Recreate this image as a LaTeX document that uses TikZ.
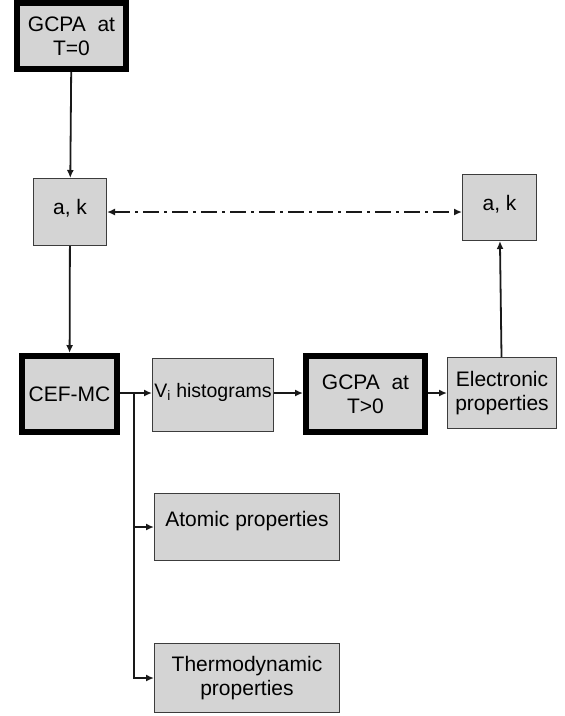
\documentclass[tikz,border=0pt]{standalone}
\usepackage{fontspec}
\setmainfont{Liberation Sans}
\usetikzlibrary{arrows, arrows.meta}
\usetikzlibrary{calc}

\definecolor{boxgray}{RGB}{212,212,212}
\definecolor{linegray}{RGB}{60,60,60}

\begin{document}
\begin{tikzpicture}[x=1pt, y=-1pt,
    every node/.style={font=\fontsize{21}{24}\selectfont, align=center},
    box/.style={draw=linegray, line width=1pt, fill=boxgray, inner sep=0pt},
    mainbox/.style={draw=black, line width=6pt, fill=boxgray, inner sep=0pt},
    flow/.style={draw=black!90, line width=1.8pt, -{Latex[length=8pt, width=7pt]}},
    link/.style={draw=black!90, line width=1.8pt, {Latex[length=8pt, width=7pt]}-{Latex[length=8pt, width=7pt]},
      dash pattern=on 16pt off 5pt on 3pt off 5pt}]
      \useasboundingbox (0,0) rectangle (565,716);

      \node[mainbox, minimum width=109pt, minimum height=66pt] (gcpa0) at (71.5,36) {GCPA\ \ at\\T=0};
      \node[box, minimum width=73pt, minimum height=67pt, text depth=10pt] (akl) at (70,212) {a, k};
      \node[box, minimum width=74pt, minimum height=66pt, text depth=10pt] (akr) at (499.5,207.5) {a, k};

      \node[mainbox, minimum width=95pt, minimum height=76pt] (cef) at (69.5,394) {CEF-MC};
      \node[box, minimum width=121pt, minimum height=73pt, text depth=10pt,
        font=\fontsize{19.5}{24}\selectfont] (vhist) at (213,395) {V\textsubscript{i} histograms};
      \node[mainbox, minimum width=119pt, minimum height=76pt] (gcpa1) at (365.5,394) {GCPA\ \ at\\T>0};
      \node[box, minimum width=109pt, minimum height=71pt] (elec) at (502,393) {Electronic\\properties};

      \node[box, minimum width=185pt, minimum height=67pt, text depth=16pt] (atom) at (247,527) {Atomic properties};
      \node[box, minimum width=185pt, minimum height=69pt] (thermo) at (247,678) {Thermodynamic\\properties};

      \coordinate (split) at (134,393);

      \draw[flow] (gcpa0) -- (akl);
      \draw[flow] (akl) -- (cef);
      \draw[link] (akl.east) -- (akl.east -| akr.west);
      \draw[flow] (cef.east |- split) -- (split -| vhist.west);
      \draw[flow] (vhist.east |- split) -- (split -| gcpa1.west);
      \draw[flow] (gcpa1.east |- split) -- (split -| elec.west);
      \draw[flow] (elec) -- (akr);
      \draw[flow] (split) |- (thermo.west);
      \draw[flow] (split |- atom.west) -- (atom.west);
    \end{tikzpicture}
\end{document}
